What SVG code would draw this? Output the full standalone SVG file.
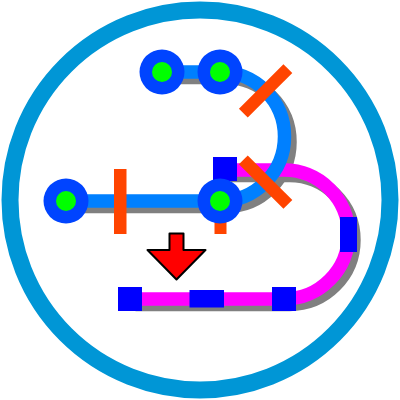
<svg xmlns="http://www.w3.org/2000/svg" width="400" height="400" viewBox="0 0 400 400">
<defs>
<style>
.ln{fill:none;stroke-width:13.5;stroke-linecap:butt;stroke-linejoin:round}
.sh{stroke:#808080}
.bl{stroke:#0080ff}
.mg{stroke:#ff00ff}
.bar{fill:#ff4400}
.sq{fill:#0000ff}
.no{fill:#0044ff}
.ni{fill:#00ff00}
</style>
<path id="pb" d="M66,201 H220 A64.5,64.5 0 0 0 220,72 H162"/>
<path id="pm" d="M225,170 H284 A64.5,64.5 0 0 1 284,299 H130"/>
</defs>
<rect width="400" height="400" fill="#ffffff"/>
<circle cx="200" cy="200" r="190" fill="none" stroke="#0096d6" stroke-width="17"/>
<g id="connectors">
<g transform="translate(5.5,5.5)">
<use href="#pm" class="ln sh"/>
<use href="#pb" class="ln sh"/>
</g>
<use href="#pm" class="ln mg"/>
<use href="#pb" class="ln bl"/>
</g>
<g id="bars">
<rect class="bar" x="114" y="169" width="12.5" height="65"/>
<rect class="bar" x="214.5" y="169" width="12" height="65"/>
<rect class="bar" x="-31.5" y="-6.25" width="63" height="12.5" transform="translate(265.6,90.9) rotate(-45)"/>
<rect class="bar" x="-31.5" y="-6.25" width="63" height="12.5" transform="translate(265.6,182.1) rotate(45)"/>
</g>
<g id="stops">
<rect class="sq" x="213" y="157" width="24" height="24"/>
<rect class="sq" x="340" y="217" width="17" height="35"/>
<rect class="sq" x="118" y="287" width="24" height="24"/>
<rect class="sq" x="189.5" y="290" width="34.5" height="17.5"/>
<rect class="sq" x="272" y="287" width="24" height="24"/>
</g>
<g id="n1"><circle class="no" cx="162" cy="72" r="22.5"/><circle class="ni" cx="162" cy="72" r="10"/></g>
<g id="n2"><circle class="no" cx="220" cy="72" r="22.5"/><circle class="ni" cx="220" cy="72" r="10"/></g>
<g id="n3"><circle class="no" cx="66" cy="201" r="22.5"/><circle class="ni" cx="66" cy="201" r="10"/></g>
<g id="n4"><circle class="no" cx="220" cy="201" r="22.5"/><circle class="ni" cx="220" cy="201" r="10"/></g>
<g id="arrow">
<polygon points="169.5,233.5 183.5,233.5 183.5,250 205.5,250 176.5,279.5 147.5,250 169.5,250" fill="#ff0000" stroke="#000000" stroke-width="2" stroke-linejoin="round"/>
</g>
</svg>
